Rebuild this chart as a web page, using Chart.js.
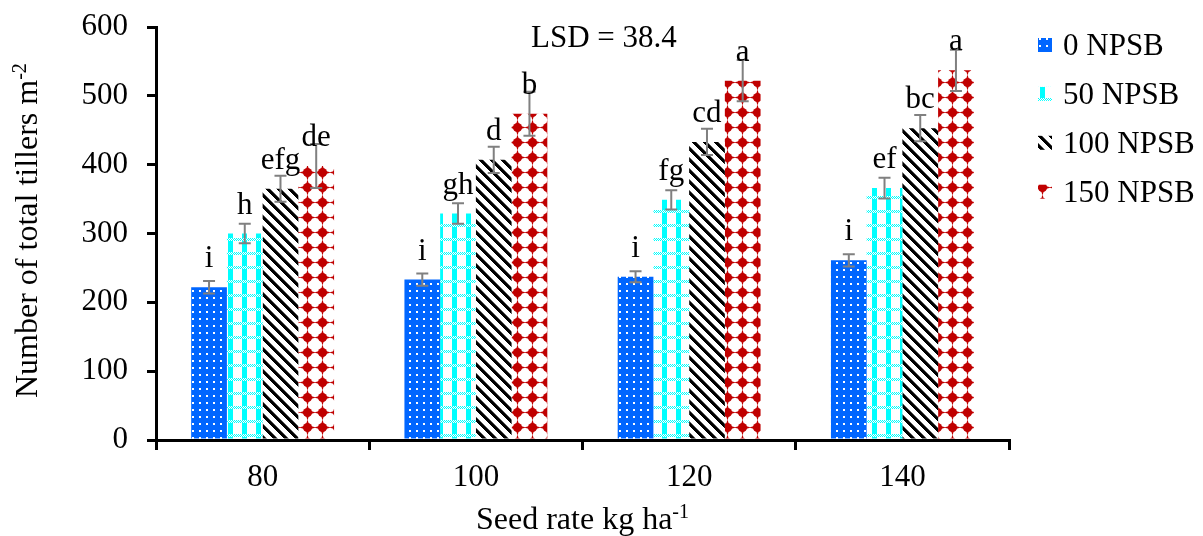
<!DOCTYPE html>
<html><head><meta charset="utf-8">
<script src="https://cdn.jsdelivr.net/npm/chart.js@4.4.1/dist/chart.umd.min.js"></script>
<style>html,body{margin:0;padding:0;background:#fff;overflow:hidden;} #wrap{width:1203px;height:536px;position:relative;}</style>
</head><body><div id="wrap"><canvas id="c" width="1203" height="536"></canvas></div>
<script>
// ---- data ----
const categories = ['80', '100', '120', '140'];
const seriesNames = ['0 NPSB', '50 NPSB', '100 NPSB', '150 NPSB'];
const npsb0 = [222, 233, 237, 261];
const npsb50 = [300, 329, 349, 366];
const npsb100 = [365, 407, 433, 453];
const npsb150 = [398, 474, 522, 537];
const err0 = [9, 9, 8, 9];
const err50 = [14, 15, 14, 15];
const err100 = [19, 19, 19, 19];
const err150 = [32, 32, 30, 30];
const letters0 = ['i', 'i', 'i', 'i'];
const letters50 = ['h', 'gh', 'fg', 'ef'];
const letters100 = ['efg', 'd', 'cd', 'bc'];
const letters150 = ['de', 'b', 'a', 'a'];
const yTicks = [0, 100, 200, 300, 400, 500, 600];
const lsdText = 'LSD = 38.4';
const yTitle = 'Number of total tillers m';
const yTitleSup = '-2';
const xTitle = 'Seed rate kg ha';
const xTitleSup = '-1';

const seriesValues = [npsb0, npsb50, npsb100, npsb150];
const seriesErrors = [err0, err50, err100, err150];
const seriesLetters = [letters0, letters50, letters100, letters150];

// ---- patterns ----
const FAM = "'Liberation Serif', 'Times New Roman', serif";
const FONT = "31px " + FAM;
const TFONT = "32px " + FAM;
const SUPFONT = "20px " + FAM;
const canvas = document.getElementById('c');
const ctx0 = canvas.getContext('2d');
function makeTile(w, h, draw) {
  const c = document.createElement('canvas'); c.width = w; c.height = h;
  const g = c.getContext('2d'); draw(g, w, h); return c;
}
const tileBlue = makeTile(7, 7, g => {
  g.fillStyle = '#0066FF'; g.fillRect(0, 0, 7, 7);
  g.fillStyle = '#ffffff'; g.fillRect(3, 3, 2, 2);
});
const tileCyan = makeTile(14, 14, g => {
  g.fillStyle = '#ffffff'; g.fillRect(0, 0, 14, 14);
  g.fillStyle = '#00FFFF';
  for (let y = 0; y < 14; y++) for (let x = 0; x < 14; x++) {
    if (y < 3) { if ((x + y) % 2 === 0) g.fillRect(x, y, 1, 1); }
    else if (x >= 4 && x < 9) g.fillRect(x, y, 1, 1);
  }
});
const tileBlack = makeTile(11, 11, g => {
  g.fillStyle = '#ffffff'; g.fillRect(0, 0, 11, 11);
  for (let y = 0; y < 11; y++) for (let x = 0; x < 11; x++) {
    const d = ((x - y) % 11 + 11) % 11;
    if (d < 4) { g.fillStyle = '#000000'; g.fillRect(x, y, 1, 1); }
    else if (d === 4) { g.fillStyle = '#666666'; g.fillRect(x, y, 1, 1); }
  }
});
const tileRed = makeTile(15, 15, g => {
  g.fillStyle = '#ffffff'; g.fillRect(0, 0, 15, 15);
  g.fillStyle = '#C00000';
  const c = 7.5;
  g.beginPath(); g.arc(c, c, 4.6, 0, Math.PI * 2); g.fill();
  g.beginPath();
  g.moveTo(c - 2.4, c); g.lineTo(c, -0.5); g.lineTo(c + 2.4, c); g.lineTo(c, 15.5); g.closePath(); g.fill();
  g.beginPath();
  g.moveTo(c, c - 2.4); g.lineTo(-0.5, c); g.lineTo(c, c + 2.4); g.lineTo(15.5, c); g.closePath(); g.fill();
});
const patterns = [tileBlue, tileCyan, tileBlack, tileRed].map(t => ctx0.createPattern(t, 'repeat'));

// ---- overlay plugin ----
const overlay = {
  id: 'overlay',
  afterDatasetsDraw(chart) {
    const ctx = chart.ctx; const ys = chart.scales.y;
    chart.data.datasets.forEach((ds, di) => {
      const meta = chart.getDatasetMeta(di);
      meta.data.forEach((bar, i) => {
        const v = ds.data[i], e = seriesErrors[di][i];
        const x = bar.x;
        const yt = ys.getPixelForValue(v + e), yb = ys.getPixelForValue(v - e);
        ctx.save();
        ctx.strokeStyle = '#808080'; ctx.lineWidth = 2;
        ctx.beginPath();
        ctx.moveTo(x, yt); ctx.lineTo(x, yb);
        ctx.moveTo(x - 6, yt); ctx.lineTo(x + 6, yt);
        ctx.moveTo(x - 6, yb); ctx.lineTo(x + 6, yb);
        ctx.stroke();
        ctx.fillStyle = '#000'; ctx.font = FONT; ctx.textAlign = 'center'; ctx.textBaseline = 'alphabetic';
        ctx.fillText(seriesLetters[di][i], x, bar.y - 20);
        ctx.restore();
      });
    });
  },
  afterDraw(chart) {
    const ctx = chart.ctx;
    ctx.save();
    ctx.fillStyle = '#000'; ctx.textBaseline = 'alphabetic'; ctx.textAlign = 'left';
    // LSD
    ctx.font = FONT; ctx.fillText(lsdText, 531, 47);
    // legend
    seriesNames.forEach((name, i) => {
      const base = 55 + 48.9 * i;
      ctx.fillStyle = patterns[i];
      ctx.fillRect(1038, base - 17, 14, 14);
      ctx.fillStyle = '#000'; ctx.font = FONT;
      ctx.fillText(name, 1063, base);
    });
    // x title
    ctx.font = TFONT; const w1 = ctx.measureText(xTitle).width;
    ctx.font = SUPFONT; const w2 = ctx.measureText(xTitleSup).width;
    const ca = chart.chartArea;
    const xs = (ca.left + ca.right) / 2 - (w1 + w2) / 2;
    ctx.font = TFONT; ctx.fillText(xTitle, xs, 529);
    ctx.font = SUPFONT; ctx.fillText(xTitleSup, xs + w1, 518);
    // y title
    ctx.translate(37, 398); ctx.rotate(-Math.PI / 2);
    ctx.font = TFONT; const w3 = ctx.measureText(yTitle).width;
    ctx.fillText(yTitle, 0, 0);
    ctx.font = SUPFONT; ctx.fillText(yTitleSup, w3, -11);
    ctx.restore();
  }
};

new Chart(canvas, {
  type: 'bar',
  data: {
    labels: categories,
    datasets: seriesValues.map((vals, i) => ({
      label: seriesNames[i],
      data: vals,
      backgroundColor: patterns[i],
      borderWidth: 0,
      categoryPercentage: 0.67,
      barPercentage: 1.0
    }))
  },
  options: {
    responsive: false,
    animation: false,
    devicePixelRatio: 1,
    layout: { padding: { left: 0, right: 194, top: 27, bottom: 0 } },
    plugins: { legend: { display: false }, tooltip: { enabled: false } },
    scales: {
      x: {
        offset: true,
        grid: { offset: true, drawOnChartArea: false, drawTicks: true, tickLength: 10, color: '#000', lineWidth: 3 },
        border: { display: true, color: '#000', width: 3 },
        ticks: { color: '#000', font: { family: FAM, size: 31 }, padding: 9, maxRotation: 0 },
        afterFit(scale) { scale.height = 96; scale.paddingLeft = 0; scale.paddingRight = 0; }
      },
      y: {
        min: 0, max: 600,
        afterBuildTicks(scale) { scale.ticks = yTicks.map(v => ({ value: v })); },
        grid: { drawOnChartArea: false, drawTicks: true, tickLength: 9, color: '#000', lineWidth: 3 },
        border: { display: true, color: '#000', width: 3 },
        ticks: { color: '#000', font: { family: FAM, size: 31 }, padding: 19 },
        afterFit(scale) { scale.width = 156; scale.paddingTop = 0; scale.paddingBottom = 0; }
      }
    }
  },
  plugins: [overlay]
});
</script>
</body></html>
